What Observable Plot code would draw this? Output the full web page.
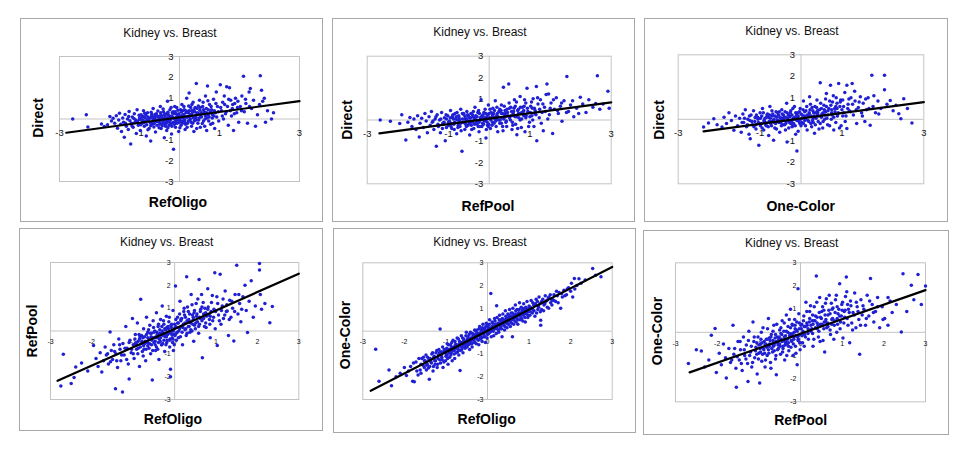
<!DOCTYPE html>
<html><head><meta charset="utf-8">
<script src="https://cdn.jsdelivr.net/npm/d3@7"></script>
<script src="https://cdn.jsdelivr.net/npm/@observablehq/plot@0.6"></script>
<style>
body{margin:0;background:#fff;font-family:"Liberation Sans",Arial,sans-serif;}
#wrap{position:relative;width:965px;height:450px;overflow:hidden;background:#fff;}
.box{position:absolute;border:1px solid #a8a8a8;box-sizing:border-box;}
.t{position:absolute;transform:translate(-50%,-50%);white-space:nowrap;line-height:1;}
.ty{position:absolute;transform:translate(-50%,-50%) rotate(-90deg);white-space:nowrap;line-height:1;}
.title{font-size:12px;color:#111;}
.lab{font-size:14px;font-weight:bold;color:#000;}
.svgp{position:absolute;}
</style></head><body><div id="wrap"></div><script>
const titles = ["Kidney vs. Breast","Kidney vs. Breast","Kidney vs. Breast","Kidney vs. Breast","Kidney vs. Breast","Kidney vs. Breast"];
const xLabels = ["RefOligo","RefPool","One-Color","RefOligo","RefOligo","RefPool"];
const yLabels = ["Direct","Direct","Direct","RefPool","One-Color","One-Color"];
const xTicksTop = [-3,-1,1,3];
const xTicksBottom = [-3,-2,-1,0,1,2,3];
const yTicks = [-3,-2,-1,1,2,3];

const p1 = [[-2.67,0.0],[-2.33,0.2],[-2.29,-0.38],[-1.95,-0.24],[-1.88,-0.36],[-1.8,-0.28],[-1.74,0.12],[-1.7,-0.1],[-1.66,0.04],[-1.62,-0.2],[-1.58,0.16],[-1.55,-0.44],[-1.52,-0.05],[-1.5,0.28],[-1.47,-0.25],[-1.45,-0.6],
[-1.42,0.05],[-1.4,-0.15],[-1.38,-0.88],[-1.36,0.22],[-1.33,-0.35],[-1.3,0.0],[-1.28,-0.5],[-1.26,0.36],[-1.22,-1.2],[-1.2,-0.2],[-1.18,0.1],[-1.16,-0.4],[-1.13,0.25],[-1.1,-0.05],[-1.08,-0.7],[-1.06,0.45],[-1.03,-0.3],[-1.0,0.05],[-1.12,-0.18],[-1.24,-0.08],
[-0.98,-0.55],[-0.96,0.2],[-0.93,-0.15],[-0.9,0.4],[-0.88,-0.35],[-0.86,0.05],[-0.83,-0.82],[-0.8,0.3],[-0.78,-0.1],[-0.76,-0.45],[-0.72,-1.05],[-0.7,0.15],[-0.68,-0.25],[-0.66,0.5],[-0.63,0.0],[-0.6,-0.62],[-0.58,0.25],[-0.56,-0.3],[-0.53,0.1],[-0.5,-0.15],[-0.92,-0.05],[-0.72,-0.32],[-0.62,0.12],[-0.84,0.18],
[-0.48,0.6],[-0.46,-0.45],[-0.44,0.05],[-0.42,-0.2],[-0.4,0.35],[-0.38,-0.9],[-0.36,0.15],[-0.34,-0.1],[-0.32,-0.55],[-0.3,0.85],[-0.28,0.2],[-0.26,-0.3],[-0.24,0.45],[-0.22,0.0],[-0.2,-0.72],[-0.18,0.3],[-0.16,-0.15],[-0.15,-1.45],[-0.12,0.6],[-0.1,-0.4],[-0.08,0.1],[-0.06,-0.2],[-0.04,0.42],[-0.02,-0.6],[-0.45,-0.05],[-0.35,-0.35],[-0.3,0.05],[-0.25,-0.15],[-0.2,0.15],[-0.14,0.25],[-0.1,-0.05],[-0.05,0.2],
[0.0,-0.15],[0.02,0.05],[0.04,-0.3],[0.06,0.7],[0.08,0.2],[0.1,-0.1],[0.12,0.45],[0.14,-0.5],[0.16,0.1],[0.18,1.0],[0.2,-0.2],[0.22,0.3],[0.24,1.25],[0.26,-0.05],[0.28,0.55],[0.3,-0.35],[0.32,0.15],[0.34,0.8],[0.36,-0.6],[0.38,0.35],[0.4,0.0],[0.42,1.7],[0.44,0.5],[0.46,-0.2],[0.48,0.25],[0.05,0.35],[0.15,-0.25],[0.25,0.12],[0.3,0.4],[0.35,0.05],[0.42,0.2],
[0.5,0.9],[0.52,-0.4],[0.55,0.1],[0.58,0.6],[0.6,-0.1],[0.62,0.35],[0.65,1.1],[0.68,-0.55],[0.7,1.58],[0.72,0.2],[0.75,0.7],[0.78,-0.25],[0.8,0.45],[0.82,0.05],[0.85,0.95],[0.88,-0.45],[0.9,0.3],[0.92,1.3],[0.95,0.6],[0.98,-0.1],[0.55,0.3],[0.65,0.15],[0.72,0.45],[0.82,0.22],
[1.02,1.65],[1.05,0.4],[1.08,0.8],[1.1,0.0],[1.12,1.1],[1.15,0.25],[1.18,1.55],[1.2,0.6],[1.22,-0.3],[1.25,1.5],[1.28,0.9],[1.3,0.15],[1.32,0.5],[1.35,-0.55],[1.38,0.75],[1.4,1.0],[1.43,0.3],[1.46,0.85],[1.48,-0.15],
[1.52,0.6],[1.56,1.1],[1.6,2.05],[1.62,0.35],[1.66,0.75],[1.7,-0.2],[1.74,1.3],[1.77,1.47],[1.8,0.5],[1.85,0.9],[1.9,-0.35],[1.95,0.2],[2.0,0.7],[2.02,2.08],[2.05,1.38],[2.08,0.85],[2.12,1.0],[2.15,-0.15],[2.2,0.4],[2.3,0.0],[2.35,0.3]];
const p1b = [[-1.35,-0.2],[-1.27,0.12],[-1.19,-0.32],[-1.14,0.02],[-1.07,-0.12],[-1.01,0.18],[-0.97,-0.28],[-0.94,0.08],[-0.89,-0.18],[-0.87,0.28],[-0.81,-0.05],[-0.79,-0.52],[-0.74,0.05],[-0.71,0.32],[-0.69,-0.15],[-0.64,-0.38],[-0.61,0.22],[-0.59,-0.08],[-0.54,0.38],[-0.51,-0.42],[-0.49,0.02],[-0.47,0.18],[-0.43,-0.32],[-0.41,0.48],[-0.39,0.02],[-0.37,-0.22],[-0.33,0.25],[-0.31,-0.12],[-0.29,-0.42],[-0.27,0.08],[-0.23,-0.05],[-0.21,0.55],[-0.19,-0.35],[-0.17,0.08],[-0.13,-0.25],[-0.11,0.35],[-0.09,-0.12],[-0.07,0.55],[-0.03,-0.05],[-0.01,0.25],[0.01,-0.42],[0.03,0.45],[0.07,-0.2],[0.09,0.05],[0.11,0.6],[0.13,-0.05],[0.17,0.38],[0.19,-0.4],[0.21,0.12],[0.23,0.62],[0.27,0.22],[0.29,-0.15],[0.31,0.7],[0.33,0.32],[0.37,-0.1],[0.39,0.55],[0.41,0.08],[0.43,-0.45],[0.47,0.62],[0.49,0.05],[0.51,0.42],[0.53,0.15],[0.57,-0.22],[0.59,0.8],[0.61,0.25],[0.63,-0.35],[0.67,0.5],[0.69,0.05],[0.71,0.88],[0.73,-0.1],[0.77,0.32],[0.79,0.6],[0.83,-0.2],[0.87,0.4],[0.91,0.75],[0.93,0.1],[0.97,0.35],[1.03,0.55],[1.07,0.15],[1.13,0.7],[1.17,0.35],[1.23,0.95],[1.27,0.4],[1.33,0.7],[1.37,0.25],[1.45,0.55],[1.55,0.4],[1.65,0.95],[1.75,0.6]];
const p1c = [[-1.05,-0.1],[-0.99,-0.02],[-0.95,-0.22],[-0.91,0.12],[-0.86,-0.12],[-0.82,-0.28],[-0.79,0.1],[-0.77,-0.02],[-0.73,-0.18],[-0.69,0.22],[-0.67,0.02],[-0.63,-0.22],[-0.61,0.05],[-0.57,-0.12],[-0.55,0.15],[-0.52,-0.02],[-0.49,-0.25],[-0.47,0.3],[-0.44,0.15],[-0.41,-0.1],[-0.38,0.22],[-0.35,0.0],[-0.33,-0.2],[-0.29,0.32],[-0.27,-0.05],[-0.24,0.12],[-0.21,-0.22],[-0.19,0.05],[-0.16,0.35],[-0.13,0.02],[-0.11,-0.2],[-0.08,0.25],[-0.05,-0.02],[-0.03,0.12],[0.0,0.15],[0.03,-0.08],[0.05,0.1],[0.08,0.4],[0.11,0.2],[0.13,-0.15],[0.16,0.3],[0.19,0.08],[0.22,-0.1],[0.24,0.4],[0.27,0.0],[0.3,0.2],[0.33,-0.2],[0.36,0.45],[0.39,0.15],[0.42,-0.05],[0.45,0.3],[0.48,-0.05],[0.52,0.55],[0.56,0.25],[0.6,0.45],[0.64,0.0],[0.68,0.3],[0.74,0.1],[0.79,0.35],[0.86,0.15]];

const p2 = [[-2.68,0.0],[-2.43,-0.06],[-2.2,-0.16],[-2.15,0.25],[-2.05,-0.94],[-2.0,-0.1],[-1.95,0.12],[-1.9,-0.3],[-1.85,0.05],[-1.8,-0.45],[-1.76,0.2],[-1.72,-0.8],[-1.7,-0.15],[-1.66,0.08],[-1.62,-0.35],[-1.58,0.3],[-1.55,-0.05],[-1.52,-0.6],
[-1.48,0.15],[-1.45,-0.25],[-1.42,0.4],[-1.4,-0.1],[-1.36,-0.45],[-1.33,0.05],[-1.3,-1.24],[-1.28,0.25],[-1.25,-0.3],[-1.22,0.0],[-1.2,-0.6],[-1.17,0.35],[-1.14,-0.15],[-1.1,0.1],[-1.08,-0.97],[-1.05,-0.35],[-1.02,0.2],
[-0.98,-0.05],[-0.95,0.45],[-0.92,-0.4],[-0.9,0.1],[-0.87,-0.2],[-0.84,0.3],[-0.8,-0.65],[-0.78,0.0],[-0.75,0.2],[-0.72,-0.3],[-0.7,0.5],[-0.67,-1.47],[-0.65,-0.1],[-0.62,0.25],[-0.6,-0.45],[-0.57,0.05],[-0.55,0.4],[-0.52,-0.25],[-0.5,0.1],[-0.88,0.05],[-0.74,-0.12],[-0.6,0.05],
[-0.48,-0.7],[-0.45,0.3],[-0.42,-0.1],[-0.4,0.15],[-0.38,-0.4],[-0.35,0.6],[-0.32,0.0],[-0.3,-0.2],[-0.28,0.35],[-0.25,-0.55],[-0.22,0.1],[-0.2,0.95],[-0.18,-0.3],[-0.15,0.25],[-0.12,-0.05],[-0.1,0.5],[-0.08,-0.85],[-0.06,0.15],[-0.04,-0.25],[-0.02,0.7],[-0.45,-0.05],[-0.35,0.1],[-0.25,-0.1],[-0.15,0.05],[-0.05,-0.1],
[0.0,0.3],[0.03,-0.4],[0.06,0.1],[0.09,0.55],[0.12,-0.15],[0.15,0.9],[0.18,0.2],[0.21,-0.55],[0.24,0.4],[0.27,0.0],[0.3,0.7],[0.33,-0.3],[0.35,1.54],[0.38,0.25],[0.41,-0.1],[0.44,0.5],[0.48,1.69],[0.5,0.1],[0.08,0.25],[0.2,0.05],[0.3,0.3],[0.4,0.15],
[0.53,0.6],[0.56,-0.45],[0.59,0.3],[0.62,0.95],[0.65,-0.2],[0.68,-0.69],[0.7,0.45],[0.73,0.1],[0.76,1.1],[0.79,-0.35],[0.82,0.6],[0.85,0.2],[0.88,-0.55],[0.9,0.8],[0.93,1.49],[0.96,0.35],[0.99,-0.1],[0.6,0.2],[0.72,0.3],[0.85,0.45],
[1.02,0.65],[1.05,0.2],[1.08,1.0],[1.1,-0.3],[1.13,0.45],[1.16,1.58],[1.17,-0.97],[1.2,0.75],[1.23,0.1],[1.26,0.95],[1.3,0.35],[1.33,-0.5],[1.36,0.6],[1.4,1.2],[1.42,1.69],[1.46,1.22],[1.48,0.25],
[1.52,0.8],[1.56,-0.63],[1.6,0.5],[1.65,1.05],[1.7,0.3],[1.75,0.65],[1.79,-0.06],[1.84,0.9],[1.91,2.05],[1.95,0.4],[2.0,0.7],[2.08,0.15],[2.15,0.55],[2.24,1.07],[2.3,0.75],[2.38,0.35],[2.45,0.95],[2.55,0.6],[2.62,0.78],[2.66,2.08],[2.72,0.5],[2.8,0.75],[2.92,1.35],[2.95,0.55]];
const p2b = [[-1.38,-0.05],[-1.31,0.15],[-1.26,-0.2],[-1.19,0.05],[-1.15,-0.4],[-1.11,-0.1],[-1.06,0.25],[-1.0,-0.25],[-0.96,0.1],[-0.93,-0.15],[-0.89,0.25],[-0.86,-0.45],[-0.82,0.05],[-0.79,0.35],[-0.76,-0.25],[-0.73,0.0],[-0.69,-0.5],[-0.66,0.3],[-0.63,-0.1],[-0.59,0.15],[-0.56,-0.3],[-0.53,0.25],[-0.49,-0.15],[-0.46,0.1],[-0.43,-0.45],[-0.39,0.4],[-0.36,-0.2],[-0.33,0.2],[-0.29,-0.05],[-0.26,0.45],[-0.23,-0.3],[-0.19,0.15],[-0.16,-0.15],[-0.13,0.35],[-0.09,0.0],[-0.07,-0.45],[-0.03,0.25],[-0.01,-0.2],[0.02,0.5],[0.04,0.0],[0.07,-0.25],[0.11,0.3],[0.14,0.05],[0.17,-0.3],[0.19,0.6],[0.22,0.15],[0.26,-0.15],[0.29,0.45],[0.32,0.1],[0.34,-0.5],[0.37,0.65],[0.4,0.3],[0.43,-0.3],[0.46,0.2],[0.49,0.8],[0.52,0.0],[0.55,0.4],[0.58,-0.25],[0.61,0.55],[0.64,0.15],[0.67,0.85],[0.7,-0.4],[0.74,0.3],[0.77,0.6],[0.8,0.05],[0.84,0.4],[0.87,0.95],[0.91,0.2],[0.94,0.55],[0.97,-0.3],[1.01,0.35],[1.04,0.85],[1.07,0.0],[1.11,0.55],[1.15,0.25],[1.19,1.05],[1.24,0.5],[1.28,-0.15],[1.32,0.75],[1.38,0.4],[1.44,0.05],[1.5,0.55],[1.58,0.95],[1.68,0.45],[1.78,0.8],[1.9,0.35],[2.05,0.9],[2.2,0.3]];
const p2c = [[-1.12,-0.2],[-1.05,0.05],[-1.0,-0.1],[-0.94,-0.3],[-0.9,0.2],[-0.85,-0.1],[-0.81,0.15],[-0.77,-0.35],[-0.74,0.1],[-0.7,-0.15],[-0.66,0.05],[-0.63,0.3],[-0.58,-0.2],[-0.55,0.0],[-0.51,0.2],[-0.48,-0.05],[-0.44,-0.25],[-0.41,0.25],[-0.37,0.05],[-0.34,-0.15],[-0.3,0.15],[-0.27,-0.3],[-0.24,0.3],[-0.21,0.0],[-0.17,0.2],[-0.14,-0.2],[-0.11,0.1],[-0.08,0.3],[-0.05,0.05],[-0.02,-0.3],[0.01,0.1],[0.05,0.35],[0.08,-0.1],[0.1,0.15],[0.13,0.45],[0.16,-0.05],[0.2,0.3],[0.23,0.0],[0.26,0.5],[0.3,-0.15],[0.33,0.3],[0.36,0.05],[0.39,0.45],[0.42,-0.05],[0.45,0.35],[0.5,0.55],[0.54,0.2],[0.57,-0.1],[0.6,0.4],[0.64,0.65],[0.68,0.15],[0.72,0.5],[0.76,0.0],[0.8,0.35],[0.86,0.65],[0.9,0.1],[0.95,0.4],[1.0,0.15],[1.06,0.55],[1.12,0.3]];

const p3 = [[-2.38,-0.36],[-2.26,-0.17],[-2.13,0.03],[-2.05,-0.25],[-1.93,-0.36],[-1.88,0.1],[-1.82,-0.2],[-1.76,0.3],[-1.7,-0.05],[-1.64,-0.51],[-1.6,0.15],[-1.55,-0.3],[-1.5,0.05],
[-1.46,-0.6],[-1.42,0.25],[-1.4,-0.15],[-1.36,0.45],[-1.33,-0.35],[-1.3,0.0],[-1.27,-0.7],[-1.24,-0.9],[-1.22,0.2],[-1.19,-0.25],[-1.16,0.4],[-1.13,-0.1],[-1.1,-0.45],[-1.06,0.1],[-1.03,-1.21],[-1.0,0.3],[-1.25,-0.05],[-1.12,0.08],
[-0.97,-0.2],[-0.94,0.5],[-0.91,-0.5],[-0.88,0.05],[-0.85,-0.3],[-0.82,0.25],[-0.79,-0.75],[-0.76,0.6],[-0.73,-0.1],[-0.7,0.15],[-0.67,-0.98],[-0.64,-0.4],[-0.61,0.35],[-0.58,-0.05],[-0.55,0.2],[-0.52,-0.6],[-0.5,0.05],[-0.9,-0.1],[-0.78,0.08],[-0.65,-0.15],
[-0.47,0.45],[-0.44,-0.25],[-0.41,0.1],[-0.38,-0.5],[-0.35,0.75],[-0.34,-1.05],[-0.31,0.2],[-0.28,-0.15],[-0.25,0.4],[-0.22,-0.35],[-0.19,0.05],[-0.16,0.6],[-0.13,-0.7],[-0.1,-1.47],[-0.08,0.3],[-0.05,-0.1],[-0.02,0.5],[-0.45,0.05],[-0.36,-0.1],[-0.27,0.12],[-0.18,-0.2],[-0.08,0.1],
[0.0,-0.3],[0.03,0.2],[0.06,0.85],[0.09,-0.05],[0.12,0.4],[0.15,-0.5],[0.18,0.15],[0.21,1.05],[0.24,-0.2],[0.27,0.55],[0.3,0.05],[0.33,-0.65],[0.36,0.3],[0.39,0.9],[0.42,-0.1],[0.45,0.45],[0.47,1.7],[0.5,0.1],[0.1,0.1],[0.2,0.3],[0.3,-0.15],[0.4,0.2],
[0.53,-0.4],[0.56,0.65],[0.59,0.2],[0.62,1.2],[0.65,-0.25],[0.68,0.5],[0.72,1.58],[0.74,0.0],[0.77,0.8],[0.8,-0.5],[0.83,0.35],[0.86,1.0],[0.89,0.15],[0.92,1.66],[0.95,0.6],[0.98,-0.3],[0.6,0.35],[0.75,0.3],[0.88,0.5],
[1.02,0.9],[1.05,0.3],[1.08,-0.1],[1.12,1.58],[1.12,-0.43],[1.15,0.7],[1.18,0.4],[1.22,1.0],[1.25,1.66],[1.28,0.2],[1.32,0.85],[1.36,-0.2],[1.4,0.55],[1.45,1.05],[1.48,0.3],
[1.52,0.75],[1.56,-0.1],[1.6,0.45],[1.64,1.0],[1.69,-0.28],[1.73,2.05],[1.76,0.6],[1.82,0.3],[1.88,0.85],[1.95,0.5],[2.04,2.05],[2.04,1.38],[2.1,0.7],[2.18,0.88],[2.25,0.4],[2.32,0.65],[2.39,0.26],[2.44,0.03],[2.51,0.96],[2.6,0.5],[2.71,-0.17]];
const p3b = [[-1.44,-0.15],[-1.38,0.05],[-1.31,-0.25],[-1.26,0.15],[-1.2,-0.1],[-1.15,-0.35],[-1.09,0.2],[-1.04,-0.15],[-0.99,0.05],[-0.95,-0.4],[-0.92,0.3],[-0.87,-0.15],[-0.84,0.1],[-0.8,-0.35],[-0.77,0.2],[-0.74,-0.2],[-0.71,0.4],[-0.68,-0.05],[-0.63,0.15],[-0.6,-0.45],[-0.57,0.3],[-0.54,-0.15],[-0.51,0.1],[-0.48,-0.3],[-0.46,0.25],[-0.42,-0.05],[-0.39,0.35],[-0.37,-0.2],[-0.33,0.05],[-0.3,-0.4],[-0.26,0.3],[-0.23,-0.1],[-0.2,0.5],[-0.17,0.0],[-0.14,-0.3],[-0.11,0.2],[-0.07,-0.55],[-0.04,0.35],[-0.01,0.0],[0.02,-0.15],[0.05,0.45],[0.08,0.15],[0.11,-0.3],[0.14,0.6],[0.17,-0.05],[0.2,0.25],[0.23,0.7],[0.26,-0.35],[0.29,0.4],[0.32,0.15],[0.35,-0.25],[0.38,0.55],[0.41,0.3],[0.44,-0.45],[0.48,0.75],[0.51,0.25],[0.54,-0.1],[0.57,0.45],[0.6,0.95],[0.63,0.05],[0.66,0.4],[0.7,-0.3],[0.73,0.65],[0.76,0.2],[0.79,1.1],[0.82,0.5],[0.85,-0.15],[0.88,0.75],[0.91,0.3],[0.94,-0.4],[0.97,0.9],[1.0,0.45],[1.04,0.6],[1.07,1.25],[1.1,0.15],[1.14,0.5],[1.17,0.95],[1.21,0.35],[1.26,0.7],[1.31,1.3],[1.35,0.45],[1.42,0.8],[1.5,0.15],[1.58,0.95],[1.66,0.5],[1.78,1.1],[1.9,0.25]];
const p3c = [[-1.1,-0.25],[-1.05,0.0],[-0.99,-0.3],[-0.96,0.15],[-0.9,-0.05],[-0.86,-0.25],[-0.83,0.2],[-0.78,-0.1],[-0.75,0.05],[-0.72,-0.3],[-0.69,0.25],[-0.66,0.0],[-0.62,-0.2],[-0.59,0.1],[-0.56,-0.05],[-0.53,0.35],[-0.49,-0.15],[-0.46,0.0],[-0.43,0.2],[-0.4,-0.25],[-0.37,0.1],[-0.34,0.3],[-0.31,-0.05],[-0.28,0.15],[-0.25,-0.2],[-0.22,0.2],[-0.19,-0.3],[-0.16,0.1],[-0.13,0.3],[-0.1,-0.05],[-0.07,0.15],[-0.03,-0.2],[0.0,0.25],[0.03,0.05],[0.06,-0.2],[0.09,0.35],[0.12,0.0],[0.15,0.2],[0.19,-0.1],[0.22,0.45],[0.25,0.15],[0.28,-0.05],[0.31,0.3],[0.34,0.6],[0.37,0.05],[0.4,0.4],[0.44,0.15],[0.47,-0.2],[0.5,0.5],[0.54,0.3],[0.58,0.0],[0.62,0.6],[0.66,0.2],[0.7,0.85],[0.75,0.45],[0.8,0.1],[0.85,0.6],[0.9,0.25],[0.96,0.8],[1.02,0.15]];

const p4 = [[-2.75,-2.41],[-2.69,-1.02],[-2.5,-2.3],[-2.43,-2.04],[-2.39,-1.58],[-2.25,-1.4],[-2.1,-1.75],[-1.96,-0.63],[-1.9,-1.2],[-1.85,-1.55],[-1.8,-0.95],[-1.76,-1.8],[-1.72,-1.3],[-1.68,-0.7],[-1.65,-1.05],[-1.6,-1.45],[-1.56,-0.04],[-1.53,-0.85],[-1.5,-1.25],
[-1.47,-0.6],[-1.43,-2.53],[-1.42,-1.0],[-1.38,-1.6],[-1.35,-0.35],[-1.32,-0.8],[-1.3,-1.3],[-1.26,-2.67],[-1.25,-0.55],[-1.22,-1.05],[-1.18,0.2],[-1.15,-0.75],[-1.12,-1.45],[-1.1,-2.1],[-1.08,-0.4],[-1.05,-0.95],[-1.02,0.55],[-1.0,-0.6],
[-0.98,-1.2],[-0.95,-0.15],[-0.92,-0.8],[-0.9,0.35],[-0.88,-0.45],[-0.85,-1.55],[-0.82,1.39],[-0.8,-0.2],[-0.78,-0.9],[-0.75,0.1],[-0.72,-0.55],[-0.7,-1.3],[-0.68,0.6],[-0.65,-0.3],[-0.62,-0.75],[-0.6,0.25],[-0.58,-1.0],[-0.56,-0.1],[-0.54,-2.15],[-0.52,0.45],[-0.5,-0.5],[-0.95,-0.55],[-0.85,-0.35],[-0.75,-0.65],[-0.65,-0.05],[-0.55,-0.4],
[-0.48,0.0],[-0.46,-0.85],[-0.44,0.8],[-0.42,-0.3],[-0.4,0.2],[-0.38,-1.25],[-0.36,-0.1],[-0.34,0.5],[-0.32,-0.6],[-0.3,1.1],[-0.28,-0.2],[-0.26,0.3],[-0.24,-0.9],[-0.22,0.05],[-0.2,0.65],[-0.18,-0.4],[-0.16,-0.05],[-0.14,0.4],[-0.12,-0.7],[-0.1,-1.68],[-0.1,-2.0],[-0.08,0.15],[-0.06,-0.3],[-0.04,0.9],[-0.02,-0.15],[-0.45,-0.25],[-0.35,-0.45],[-0.25,-0.1],[-0.15,0.1],[-0.05,-0.5],[-0.3,0.0],[-0.2,-0.25],
[0.0,0.3],[0.02,1.97],[0.04,-0.4],[0.07,0.6],[0.1,0.0],[0.13,1.3],[0.16,0.2],[0.19,-0.6],[0.22,0.85],[0.25,0.35],[0.28,-0.2],[0.29,2.38],[0.31,1.05],[0.34,0.5],[0.37,-0.05],[0.4,1.6],[0.43,0.7],[0.46,-0.45],[0.48,0.25],[0.05,0.15],[0.15,0.45],[0.25,0.05],[0.35,0.2],[0.45,0.5],
[0.52,1.2],[0.55,0.4],[0.58,-0.1],[0.59,2.26],[0.62,0.85],[0.65,1.6],[0.67,-1.17],[0.7,0.55],[0.73,1.0],[0.76,0.15],[0.8,1.85],[0.83,0.7],[0.86,-0.3],[0.89,1.25],[0.92,0.45],[0.95,0.95],[0.97,2.55],[0.98,0.1],[0.6,0.6],[0.75,0.8],[0.85,0.3],
[1.02,1.5],[1.03,-0.63],[1.06,0.7],[1.1,2.48],[1.12,0.3],[1.15,1.1],[1.18,0.55],[1.22,1.75],[1.25,0.85],[1.27,0.88],[1.3,-0.2],[1.33,1.35],[1.36,0.6],[1.4,1.0],[1.43,-0.44],[1.46,1.6],[1.5,2.88],
[1.53,0.75],[1.57,1.2],[1.6,0.4],[1.65,1.5],[1.7,2.0],[1.73,0.9],[1.76,-0.07],[1.8,1.3],[1.85,2.2],[1.9,0.6],[1.95,1.1],[2.05,2.96],[2.05,2.67],[2.07,1.6],[2.1,0.95],[2.18,1.2],[2.3,0.36],[2.36,1.07]];
const p4b = [[-1.62,-1.0],[-1.55,-1.35],[-1.45,-0.9],[-1.4,-1.3],[-1.33,-0.6],[-1.28,-1.05],[-1.2,-0.75],[-1.16,-1.25],[-1.1,-0.5],[-1.04,-0.8],[-1.0,-1.0],[-0.96,-0.35],[-0.93,-0.6],[-0.89,-1.0],[-0.86,-0.15],[-0.83,-0.7],[-0.79,-0.45],[-0.76,-1.1],[-0.73,-0.25],[-0.69,-0.8],[-0.66,-0.5],[-0.63,0.05],[-0.61,-0.55],[-0.57,-0.25],[-0.53,-0.85],[-0.51,0.15],[-0.49,-0.3],[-0.47,-0.6],[-0.43,-0.05],[-0.41,-0.8],[-0.39,0.3],[-0.37,-0.35],[-0.33,-0.15],[-0.31,0.2],[-0.29,-0.55],[-0.27,0.45],[-0.23,-0.25],[-0.21,-0.6],[-0.19,0.15],[-0.17,-0.15],[-0.13,0.6],[-0.11,-0.35],[-0.09,-0.05],[-0.07,0.3],[-0.03,-0.85],[-0.01,0.1],[0.01,-0.2],[0.03,0.5],[0.06,-0.05],[0.09,0.35],[0.12,0.75],[0.14,-0.25],[0.17,0.55],[0.2,0.15],[0.23,1.0],[0.26,0.6],[0.3,-0.1],[0.33,0.85],[0.36,0.4],[0.39,0.05],[0.42,1.15],[0.44,0.3],[0.47,0.8],[0.5,0.1],[0.53,0.65],[0.56,1.4],[0.6,0.3],[0.63,0.95],[0.66,0.45],[0.69,1.25],[0.72,0.2],[0.77,0.65],[0.81,1.05],[0.84,0.5],[0.88,0.85],[0.91,1.55],[0.94,0.6],[0.99,0.85],[1.04,1.2],[1.08,0.45],[1.13,0.9],[1.17,1.4],[1.21,0.7],[1.26,1.15],[1.32,0.5],[1.38,1.3],[1.45,0.85],[1.55,1.6],[1.62,0.95]];
const p4c = [[-0.92,-0.5],[-0.88,-0.75],[-0.84,-0.25],[-0.8,-0.55],[-0.77,-0.3],[-0.74,-0.8],[-0.71,-0.45],[-0.68,-0.15],[-0.65,-0.65],[-0.62,-0.35],[-0.59,-0.1],[-0.56,-0.6],[-0.53,-0.3],[-0.5,-0.05],[-0.47,-0.45],[-0.44,-0.7],[-0.42,-0.15],[-0.39,-0.5],[-0.36,0.05],[-0.34,-0.3],[-0.31,-0.6],[-0.29,-0.1],[-0.26,-0.4],[-0.24,0.1],[-0.21,-0.2],[-0.19,-0.5],[-0.16,0.2],[-0.14,-0.1],[-0.12,-0.4],[-0.09,0.25],[-0.07,-0.15],[-0.05,-0.35],[-0.03,0.0],[-0.01,-0.6],[0.02,0.2],[0.04,-0.1],[0.07,0.35],[0.09,-0.3],[0.12,0.1],[0.15,0.5],[0.18,-0.05],[0.21,0.3],[0.24,0.7],[0.27,0.1],[0.3,0.45],[0.33,0.2],[0.36,0.75],[0.39,0.35],[0.42,0.0],[0.45,0.6],[0.48,0.9],[0.51,0.35],[0.54,0.75],[0.58,0.2],[0.62,0.55],[0.66,1.05],[0.7,0.75],[0.75,0.35],[0.8,0.95],[0.86,0.65]];

const p5 = [[-2.69,-0.79],[-2.61,-2.2],[-2.37,-1.71],[-2.31,-2.4],[-2.1,-1.85],[-1.95,-1.95],[-1.85,-1.55],[-1.8,-2.2],[-1.76,-2.22],[-1.72,-1.35],[-1.67,-1.93],[-1.62,-1.7],[-1.58,-1.2],[-1.55,-1.5],[-1.52,-1.6],
[-1.5,-1.3],[-1.48,-1.05],[-1.45,-1.45],[-1.42,-1.62],[-1.4,-2.11],[-1.38,-1.2],[-1.35,-1.4],[-1.32,-0.95],[-1.3,-1.55],[-1.28,-1.1],[-1.25,-1.3],[-1.22,-0.85],[-1.2,-1.45],[-1.18,-1.05],[-1.15,-1.25],[-1.14,0.09],[-1.12,-0.9],[-1.1,-1.15],[-1.08,-0.7],[-1.05,-1.35],[-1.02,-0.95],[-1.0,-1.1],
[-0.98,-0.75],[-0.96,-1.2],[-0.94,-0.6],[-0.92,-0.95],[-0.9,-0.8],[-0.88,-1.05],[-0.86,-0.5],[-0.84,-0.85],[-0.82,-0.7],[-0.8,-1.0],[-0.78,-0.45],[-0.76,-0.75],[-0.74,-0.6],[-0.72,-0.9],[-0.7,-0.35],[-0.68,-0.65],[-0.66,-1.73],[-0.64,-0.5],[-0.62,-0.8],[-0.6,-0.3],[-0.58,-0.6],[-0.56,-0.45],[-0.54,-0.75],[-0.52,-0.2],[-0.5,-0.5],
[-0.48,-0.35],[-0.46,-0.6],[-0.44,-0.15],[-0.42,-0.45],[-0.4,-0.3],[-0.38,-0.55],[-0.36,-0.1],[-0.34,-0.35],[-0.32,-0.2],[-0.3,-0.5],[-0.28,0.0],[-0.26,-0.25],[-0.24,-0.1],[-0.22,-0.4],[-0.2,0.1],[-0.18,-0.2],[-0.16,-0.05],[-0.14,-0.3],[-0.12,0.15],[-0.1,-0.1],[-0.08,0.05],[-0.06,-0.25],[-0.04,0.2],[-0.02,0.0],
[0.0,-0.15],[0.02,0.1],[0.04,0.3],[0.06,-0.05],[0.08,1.65],[0.1,0.15],[0.12,0.35],[0.14,0.0],[0.16,0.2],[0.18,0.45],[0.2,0.1],[0.22,1.11],[0.24,0.3],[0.26,0.05],[0.28,0.5],[0.3,0.25],[0.32,0.4],[0.34,0.1],[0.36,0.55],[0.38,0.3],[0.4,0.45],[0.42,0.2],[0.44,0.65],[0.46,0.35],[0.48,0.5],
[0.5,0.3],[0.52,0.7],[0.54,0.45],[0.56,0.6],[0.58,0.35],[0.6,-0.25],[0.6,0.8],[0.62,0.55],[0.64,0.7],[0.66,0.45],[0.68,0.9],[0.7,0.6],[0.72,0.75],[0.74,0.5],[0.76,0.95],[0.78,0.65],[0.8,0.8],[0.82,0.55],[0.84,1.0],[0.86,0.7],[0.88,0.85],[0.9,0.6],[0.92,1.05],[0.94,0.8],[0.96,0.95],[0.98,0.7],
[1.0,1.1],[1.03,0.85],[1.06,1.0],[1.09,1.25],[1.12,0.9],[1.15,1.15],[1.18,0.8],[1.2,1.3],[1.23,1.05],[1.26,1.2],[1.28,0.48],[1.28,0.26],[1.3,0.95],[1.33,1.4],[1.36,1.15],[1.4,1.3],[1.44,1.05],[1.48,1.5],
[1.52,1.25],[1.56,1.4],[1.6,1.6],[1.64,1.3],[1.68,1.55],[1.72,1.7],[1.76,1.0],[1.8,1.5],[1.84,1.8],[1.9,1.6],[1.95,1.9],[2.0,1.75],[2.05,1.5],[2.09,2.31],[2.15,2.0],[2.25,2.1],[2.35,2.25],[2.53,2.75],[2.6,2.45],[2.73,2.39]];
const p5b = [[-2.2,-2.0],[-2.0,-1.6],[-1.9,-1.75],[-1.78,-1.4],[-1.7,-1.75],[-1.65,-1.2],[-1.6,-1.85],[-1.54,-1.15],[-1.47,-1.7],[-1.44,-1.15],[-1.39,-1.55],[-1.34,-1.0],[-1.31,-1.75],[-1.27,-1.3],[-1.24,-0.95],[-1.21,-1.6],[-1.17,-0.8],[-1.13,-1.4],[-1.11,-1.05],[-1.07,-1.6],[-1.04,-0.8],[-1.01,-1.3],[-0.99,-1.0],[-0.97,-0.55],[-0.95,-1.45],[-0.93,-0.8],[-0.91,-1.15],[-0.89,-0.6],[-0.87,-0.95],[-0.85,-1.3],[-0.83,-0.4],[-0.81,-0.8],[-0.79,-1.2],[-0.77,-0.6],[-0.75,-0.95],[-0.73,-0.3],[-0.71,-0.7],[-0.69,-1.05],[-0.67,-0.45],[-0.65,-0.85],[-0.63,-0.2],[-0.61,-0.55],[-0.59,-0.95],[-0.57,-0.35],[-0.55,-0.7],[-0.53,-0.45],[-0.51,-0.05],[-0.49,-0.7],[-0.47,-0.25],[-0.45,-0.5],[-0.43,-0.8],[-0.41,-0.05],[-0.39,-0.4],[-0.37,-0.7],[-0.35,-0.2],[-0.33,-0.5],[-0.31,0.05],[-0.29,-0.3],[-0.27,-0.55],[-0.25,0.05],[-0.23,-0.2],[-0.21,-0.6],[-0.19,0.2],[-0.17,-0.35],[-0.15,0.05],[-0.13,-0.45],[-0.11,0.3],[-0.09,-0.25],[-0.07,0.1],[-0.05,-0.5],[-0.03,0.35],[-0.01,-0.3],[0.01,0.25],[0.03,-0.1],[0.05,0.5],[0.07,0.05],[0.09,-0.25],[0.11,0.4],[0.13,0.15],[0.15,-0.2],[0.17,0.55],[0.19,0.25],[0.21,-0.1],[0.23,0.6],[0.25,0.35],[0.27,-0.05],[0.29,0.7],[0.31,0.1],[0.33,0.5],[0.35,-0.25],[0.37,0.75],[0.39,0.45],[0.41,0.05],[0.43,0.9],[0.45,0.55],[0.47,0.15],[0.49,0.75],[0.51,0.45],[0.53,0.95],[0.55,0.2],[0.57,0.8],[0.59,0.5],[0.61,1.0],[0.63,0.3],[0.65,0.65],[0.67,1.15],[0.69,0.4],[0.71,0.95],[0.73,0.3],[0.75,0.8],[0.77,1.25],[0.79,0.5],[0.81,1.05],[0.83,0.75],[0.85,0.45],[0.87,1.2],[0.89,0.95],[0.91,0.4],[0.93,0.75],[0.95,1.3],[0.97,0.6],[0.99,1.0],[1.02,0.7],[1.05,1.35],[1.08,0.8],[1.11,1.15],[1.14,0.65],[1.17,1.4],[1.21,0.95],[1.24,1.5],[1.27,0.85],[1.31,1.25],[1.35,0.9],[1.39,1.55],[1.43,1.35],[1.47,1.0],[1.51,1.6],[1.55,1.15],[1.6,1.35],[1.66,1.75],[1.7,1.25],[1.78,1.65],[1.86,1.55],[1.92,1.85],[2.02,2.1],[2.1,1.85],[2.2,2.3]];
const p5c = [[-1.6,-1.45],[-1.52,-1.3],[-1.46,-1.5],[-1.41,-1.25],[-1.36,-1.35],[-1.29,-1.15],[-1.26,-1.45],[-1.19,-1.2],[-1.16,-0.95],[-1.09,-1.25],[-1.06,-0.9],[-0.99,-0.85],[-0.97,-1.05],[-0.9,-0.95],[-0.87,-0.7],[-0.8,-0.85],[-0.77,-0.6],[-0.7,-0.8],[-0.67,-0.55],[-0.62,-0.7],[-0.58,-0.45],[-0.53,-0.6],[-0.49,-0.4],[-0.45,-0.35],[-0.41,-0.55],[-0.37,-0.3],[-0.33,-0.4],[-0.29,-0.15],[-0.25,-0.35],[-0.21,-0.1],[-0.17,-0.25],[-0.13,0.0],[-0.09,-0.15],[-0.05,0.05],[-0.01,-0.1],[0.03,0.15],[0.07,0.0],[0.11,0.2],[0.15,0.1],[0.19,0.3],[0.23,0.15],[0.27,0.35],[0.31,0.2],[0.35,0.45],[0.39,0.25],[0.43,0.5],[0.47,0.35],[0.51,0.6],[0.55,0.45],[0.59,0.65],[0.63,0.5],[0.67,0.75],[0.71,0.55],[0.75,0.8],[0.79,0.7],[0.83,0.9],[0.87,0.75],[0.91,0.95],[0.97,0.85],[1.03,1.05],[1.09,0.95],[1.15,1.2],[1.22,1.1],[1.3,1.3],[1.38,1.2],[1.46,1.45],[1.55,1.35]];

const p6 = [[-2.69,-1.35],[-2.5,-0.75],[-2.38,-0.81],[-2.3,-1.5],[-2.2,-1.2],[-2.14,-0.13],[-2.05,0.16],[-2.02,-1.74],[-1.95,-0.9],[-1.9,-1.4],[-1.85,-0.5],[-1.8,-1.1],[-1.78,-1.97],[-1.72,-0.7],[-1.68,-1.3],[-1.62,0.3],[-1.6,-0.95],[-1.55,-1.55],[-1.54,-2.37],[-1.5,-0.4],
[-1.47,-1.2],[-1.44,-0.75],[-1.4,-1.65],[-1.37,-0.2],[-1.34,-1.0],[-1.3,-0.55],[-1.27,-1.35],[-1.26,-2.12],[-1.24,0.05],[-1.2,-0.85],[-1.17,-1.5],[-1.14,0.45],[-1.12,-0.4],[-1.1,-1.1],[-1.07,-0.65],[-1.04,-1.8],[-1.02,-0.2],[-1.0,-0.9],
[-0.98,-2.19],[-0.96,-0.5],[-0.93,-1.25],[-0.9,0.2],[-0.88,-0.75],[-0.85,-1.5],[-0.82,-0.3],[-0.8,-1.0],[-0.77,0.6],[-0.75,-0.6],[-0.72,-1.3],[-0.7,-0.1],[-0.67,-0.85],[-0.64,0.3],[-0.62,-0.45],[-0.6,-1.15],[-0.58,-1.83],[-0.56,-0.2],[-0.53,-0.7],[-0.5,0.1],[-0.95,-0.3],[-0.85,-0.55],[-0.75,-0.25],[-0.65,-0.6],[-0.55,-0.45],
[-0.48,-0.95],[-0.46,-0.3],[-0.44,0.5],[-0.42,-0.6],[-0.4,0.05],[-0.38,-1.2],[-0.36,-0.15],[-0.34,0.75],[-0.32,-0.5],[-0.3,0.25],[-0.28,-0.8],[-0.26,-0.05],[-0.24,1.0],[-0.22,-0.35],[-0.2,0.35],[-0.18,-1.0],[-0.16,-0.2],[-0.14,0.55],[-0.12,-0.6],[-0.1,0.1],[-0.08,-1.4],[-0.06,1.88],[-0.05,-0.3],[-0.03,0.4],[-0.01,-0.75],[-0.45,-0.1],[-0.35,-0.4],[-0.25,-0.2],[-0.15,0.0],[-0.05,-0.15],
[0.02,0.15],[0.05,-0.45],[0.08,0.7],[0.1,-0.1],[0.13,1.3],[0.16,0.3],[0.19,-0.3],[0.22,0.9],[0.25,0.05],[0.28,0.5],[0.3,-0.6],[0.33,1.1],[0.36,0.2],[0.38,2.43],[0.4,0.65],[0.43,-0.2],[0.46,1.5],[0.48,0.35],[0.1,0.25],[0.2,0.1],[0.3,0.35],[0.4,0.15],
[0.51,0.9],[0.54,-0.35],[0.57,0.45],[0.58,-0.85],[0.6,1.25],[0.63,0.2],[0.66,0.75],[0.69,1.6],[0.72,-0.1],[0.75,0.55],[0.78,1.05],[0.81,0.3],[0.84,1.4],[0.87,0.0],[0.9,0.8],[0.94,2.1],[0.96,0.45],[0.99,1.2],[0.6,0.45],[0.75,0.35],[0.88,0.6],
[1.02,-0.25],[1.05,0.9],[1.08,1.55],[1.1,2.39],[1.12,0.6],[1.15,1.0],[1.18,-0.45],[1.2,1.35],[1.23,0.4],[1.26,0.85],[1.3,1.7],[1.33,0.2],[1.36,1.1],[1.4,0.55],[1.42,-0.95],[1.45,1.4],[1.48,0.75],
[1.52,1.0],[1.56,0.3],[1.6,1.6],[1.64,0.7],[1.68,2.32],[1.72,1.2],[1.76,0.45],[1.8,0.9],[1.85,1.5],[1.9,0.2],[1.96,1.1],[2.02,0.6],[2.1,0.3],[2.15,1.35],[2.2,0.85],[2.3,1.2],[2.42,0.01],[2.46,2.53],[2.55,0.9],[2.66,2.03],[2.72,1.4],[2.82,2.5],[2.9,1.2],[3.0,2.0]];
const p6b = [[-1.65,-1.2],[-1.58,-0.7],[-1.52,-1.05],[-1.45,-0.4],[-1.42,-1.35],[-1.35,-0.75],[-1.31,-1.15],[-1.25,-0.35],[-1.22,-1.0],[-1.18,-0.6],[-1.15,-1.3],[-1.11,-0.2],[-1.08,-0.8],[-1.05,-0.45],[-1.01,-1.15],[-0.97,-0.7],[-0.94,0.0],[-0.91,-0.95],[-0.87,-0.4],[-0.84,-1.2],[-0.81,-0.65],[-0.79,0.15],[-0.76,-0.9],[-0.73,-0.35],[-0.71,-1.55],[-0.68,-0.5],[-0.66,0.05],[-0.63,-0.8],[-0.61,-0.25],[-0.59,-1.0],[-0.57,0.35],[-0.54,-0.55],[-0.51,-0.2],[-0.49,-0.6],[-0.47,0.2],[-0.43,-0.85],[-0.41,-0.35],[-0.39,0.4],[-0.37,-0.55],[-0.33,-1.0],[-0.31,0.0],[-0.29,-0.45],[-0.27,0.55],[-0.23,-0.65],[-0.21,-0.1],[-0.19,0.3],[-0.17,-0.5],[-0.13,0.15],[-0.11,-0.9],[-0.09,0.45],[-0.07,-0.2],[-0.04,0.8],[-0.02,-0.45],[0.01,0.3],[0.04,-0.15],[0.07,0.5],[0.09,-0.6],[0.12,0.25],[0.15,0.9],[0.18,-0.05],[0.21,0.45],[0.24,1.15],[0.27,0.15],[0.29,0.75],[0.32,-0.3],[0.35,0.5],[0.39,1.3],[0.42,0.3],[0.45,0.85],[0.47,-0.4],[0.5,0.6],[0.53,1.1],[0.56,0.15],[0.59,0.75],[0.62,1.45],[0.65,0.4],[0.68,0.95],[0.71,0.1],[0.74,1.25],[0.77,0.6],[0.8,-0.3],[0.83,0.85],[0.86,1.6],[0.89,0.35],[0.92,1.0],[0.95,0.15],[0.98,0.7],[1.01,1.3],[1.04,0.4],[1.07,0.95],[1.11,1.75],[1.14,0.3],[1.17,0.85],[1.21,1.15],[1.25,0.1],[1.29,0.75],[1.34,1.3],[1.38,0.9],[1.44,0.3],[1.5,1.15],[1.58,0.6],[1.66,1.35],[1.75,0.85],[1.85,1.1],[1.98,0.55],[2.1,1.5]];
const p6c = [[-1.05,-0.95],[-1.0,-0.55],[-0.96,-0.85],[-0.92,-0.45],[-0.89,-0.7],[-0.86,-0.9],[-0.83,-0.5],[-0.8,-0.3],[-0.77,-0.75],[-0.74,-0.5],[-0.71,-0.2],[-0.69,-0.7],[-0.66,-0.35],[-0.63,-0.55],[-0.6,-0.1],[-0.58,-0.4],[-0.55,-0.75],[-0.52,-0.3],[-0.5,-0.5],[-0.47,-0.05],[-0.44,-0.4],[-0.42,-0.7],[-0.39,-0.2],[-0.36,-0.45],[-0.34,0.05],[-0.31,-0.3],[-0.29,-0.6],[-0.26,-0.15],[-0.24,0.2],[-0.21,-0.4],[-0.19,-0.05],[-0.16,-0.3],[-0.13,0.3],[-0.11,-0.15],[-0.08,0.05],[-0.06,-0.35],[-0.03,0.15],[0.0,-0.1],[0.03,0.35],[0.06,0.05],[0.09,0.25],[0.12,-0.2],[0.15,0.4],[0.18,0.15],[0.22,0.6],[0.25,0.3],[0.29,-0.05],[0.32,0.5],[0.36,0.7],[0.4,0.4],[0.44,0.05],[0.48,0.65],[0.52,0.35],[0.56,0.95],[0.61,0.55],[0.66,0.25],[0.71,0.8],[0.76,1.0],[0.82,0.5],[0.88,1.1],[0.94,0.7],[1.0,0.95],[1.06,0.65],[1.13,1.2]];

// regression line endpoints
const l1 = [[-2.83,-0.66],[3,0.86]];
const l2 = [[-2.7,-0.63],[3,0.83]];
const l3 = [[-2.38,-0.56],[3,0.8]];
const l4 = [[-2.83,-2.18],[3,2.51]];
const l5 = [[-2.81,-2.62],[3,2.82]];
const l6 = [[-2.66,-1.73],[3,1.82]];

const points = [p1.concat(p1b, p1c), p2.concat(p2b, p2c), p3.concat(p3b, p3c), p4.concat(p4b, p4c), p5.concat(p5b, p5c), p6.concat(p6b, p6c)];
const lines = [l1,l2,l3,l4,l5,l6];

// layout (page pixels)
const layout = [
 {box:[20,18,323,222], plot:[59,56,299,181], title:[170,33], ylab:[38,118], xlab:[178,202], bottom:false},
 {box:[332,18,635,222], plot:[366.7,55.7,610.7,183.3], title:[480,32], ylab:[346.7,120], xlab:[488,206], bottom:false},
 {box:[644,18,948,222], plot:[677.7,54.3,923.3,183.3], title:[792,31], ylab:[658.5,120], xlab:[800.7,206], bottom:false},
 {box:[19,228,323,431], plot:[50,262,298.3,399], title:[166.7,242], ylab:[31.7,331], xlab:[173,419], bottom:true},
 {box:[333,228,636,433], plot:[362.3,262.3,611.7,399], title:[480,241.7], ylab:[345,335], xlab:[486.7,419], bottom:true},
 {box:[643,230,949,435], plot:[675,262.3,925,401.3], title:[791.7,243], ylab:[656.7,331], xlab:[800.7,419.7], bottom:true}
];

const wrap = document.getElementById("wrap");
const grid = "#c3c3c3";
const dotColor = "#1f1fd4";

layout.forEach((L, i) => {
  const [bx0, by0, bx1, by1] = L.box;
  const [px0, py0, px1, py1] = L.plot;
  const W = bx1 - bx0, H = by1 - by0;
  const box = document.createElement("div");
  box.className = "box";
  Object.assign(box.style, {left: bx0 + "px", top: by0 + "px", width: W + "px", height: H + "px"});
  wrap.appendChild(box);

  const tickSize = L.bottom ? 7 : 9.5;
  const xt = L.bottom ? xTicksBottom : xTicksTop;
  const chart = Plot.plot({
    width: W, height: H,
    marginLeft: px0 - bx0, marginTop: py0 - by0, marginRight: bx1 - px1, marginBottom: by1 - py1,
    x: {domain: [-3, 3], axis: null},
    y: {domain: [-3, 3], axis: null},
    style: {background: "transparent", fontFamily: "Liberation Sans, Arial, sans-serif", overflow: "visible"},
    marks: [
      Plot.frame({stroke: grid, strokeWidth: 1}),
      Plot.ruleX([0], {stroke: grid, strokeWidth: 1}),
      Plot.ruleY([0], {stroke: grid, strokeWidth: 1}),
      Plot.text(xt, {x: d => d, y: () => 0, text: d => String(d), dy: L.bottom ? 11 : 14, fontSize: tickSize, fill: "#111"}),
      Plot.text(yTicks, {x: () => 0, y: d => d, text: d => String(d), dx: L.bottom ? -4 : -6, textAnchor: "end", fontSize: tickSize, fill: "#111"}),
      Plot.dot(points[i], {x: d => d[0], y: d => d[1], r: 1.75, fill: dotColor, stroke: "none"}),
      Plot.line(lines[i], {x: d => d[0], y: d => d[1], stroke: "#000", strokeWidth: 2.2})
    ]
  });
  chart.classList.add("svgp");
  chart.style.position = "absolute";
  chart.style.left = bx0 + "px";
  chart.style.top = by0 + "px";
  wrap.appendChild(chart);

  const t = document.createElement("div");
  t.className = "t title"; t.textContent = titles[i];
  t.style.left = L.title[0] + "px"; t.style.top = L.title[1] + "px";
  wrap.appendChild(t);

  const xl = document.createElement("div");
  xl.className = "t lab"; xl.textContent = xLabels[i];
  xl.style.left = L.xlab[0] + "px"; xl.style.top = L.xlab[1] + "px";
  wrap.appendChild(xl);

  const yl = document.createElement("div");
  yl.className = "ty lab"; yl.textContent = yLabels[i];
  yl.style.left = L.ylab[0] + "px"; yl.style.top = L.ylab[1] + "px";
  wrap.appendChild(yl);
});
</script></body></html>
